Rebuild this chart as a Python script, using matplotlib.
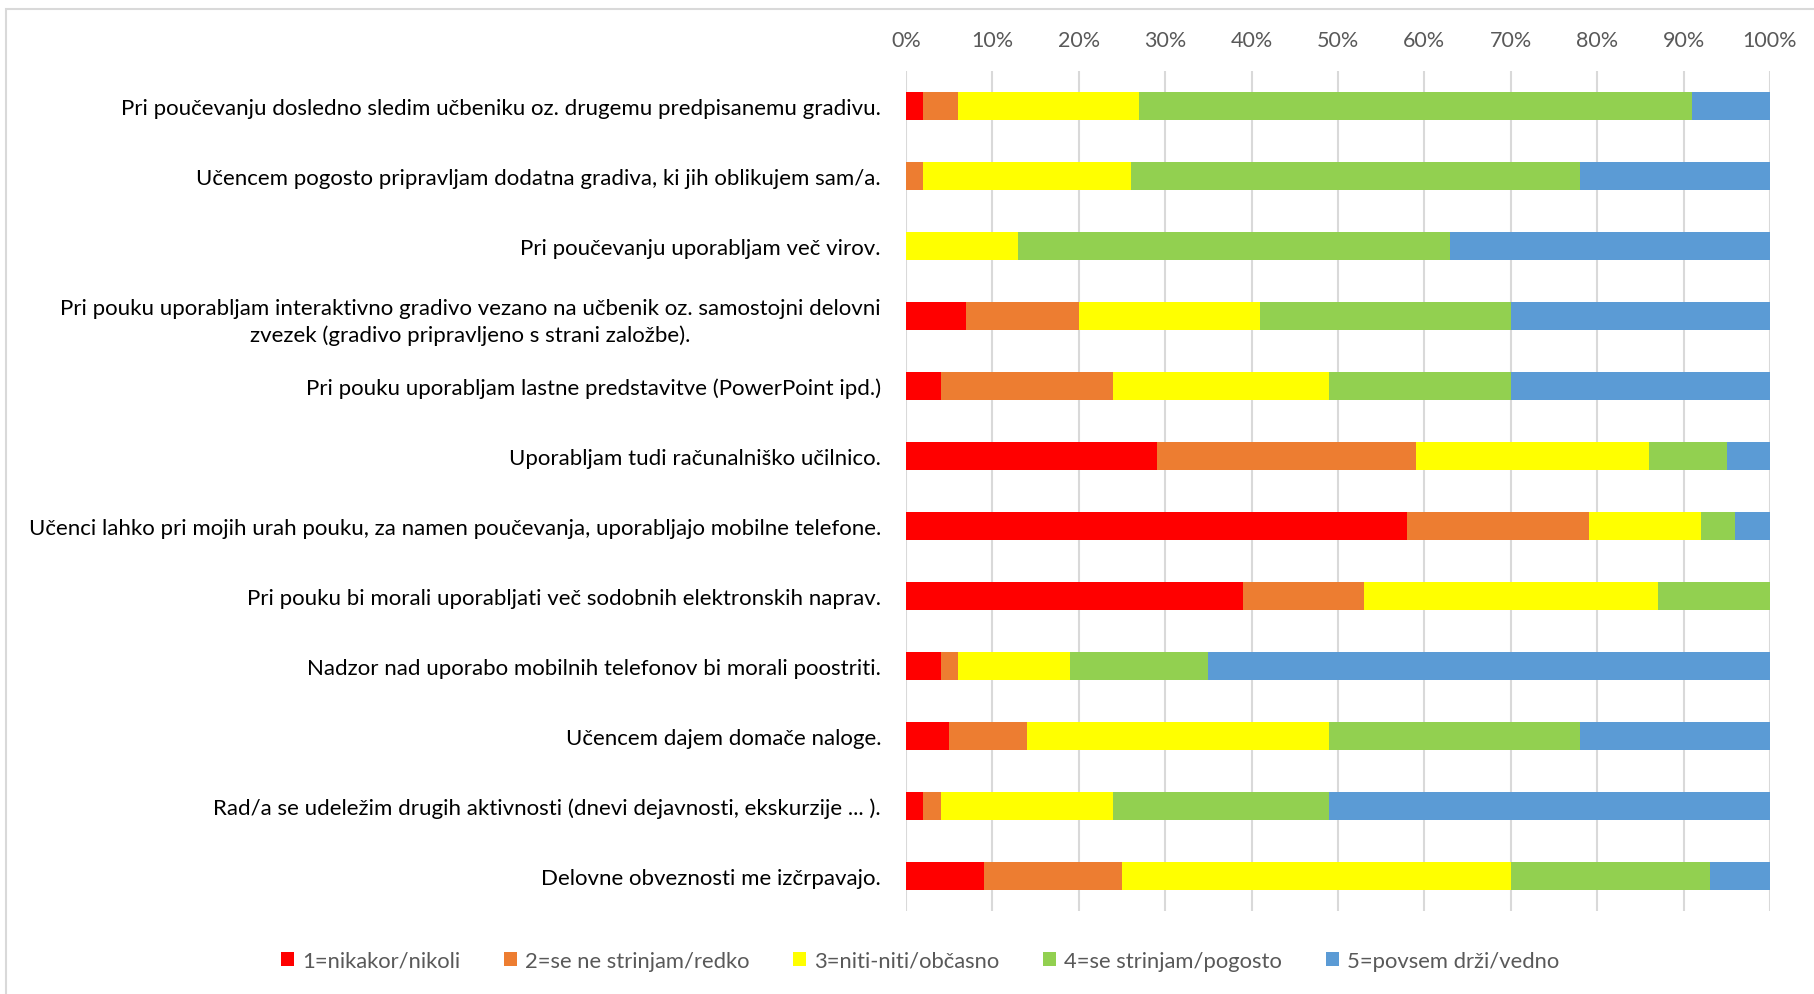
import numpy as np
import matplotlib
matplotlib.use("Agg")
import matplotlib.pyplot as plt
from matplotlib.patches import Rectangle, Patch

plt.rcParams['font.family'] = ['Lato', 'DejaVu Sans']

statements = [
    'Pri poučevanju dosledno sledim učbeniku oz. drugemu predpisanemu gradivu.',
    'Učencem pogosto pripravljam dodatna gradiva, ki jih oblikujem sam/a.',
    'Pri poučevanju uporabljam več virov.',
    'Pri pouku uporabljam interaktivno gradivo vezano na učbenik oz. samostojni delovni\nzvezek (gradivo pripravljeno s strani založbe).',
    'Pri pouku uporabljam lastne predstavitve (PowerPoint ipd.)',
    'Uporabljam tudi računalniško učilnico.',
    'Učenci lahko pri mojih urah pouku, za namen poučevanja, uporabljajo mobilne telefone.',
    'Pri pouku bi morali uporabljati več sodobnih elektronskih naprav.',
    'Nadzor nad uporabo mobilnih telefonov bi morali poostriti.',
    'Učencem dajem domače naloge.',
    'Rad/a se udeležim drugih aktivnosti (dnevi dejavnosti, ekskurzije ... ).',
    'Delovne obveznosti me izčrpavajo.',
]

legend_labels = ['1=nikakor/nikoli', '2=se ne strinjam/redko', '3=niti-niti/občasno',
                 '4=se strinjam/pogosto', '5=povsem drži/vedno']

# shares in % per statement
never = [2, 0, 0, 7, 4, 29, 58, 39, 4, 5, 2, 9]
rarely = [4, 2, 0, 13, 20, 30, 21, 14, 2, 9, 2, 16]
sometimes = [21, 24, 13, 21, 25, 27, 13, 34, 13, 35, 20, 45]
often = [64, 52, 50, 29, 21, 9, 4, 13, 16, 29, 25, 23]
always = [9, 22, 37, 30, 30, 5, 4, 0, 65, 22, 51, 7]

colors = ['#FF0000', '#ED7D31', '#FFFF00', '#92D050', '#5B9BD5']

W, H = 1814, 995
fig = plt.figure(figsize=(W / 100, H / 100), dpi=100)
ax = fig.add_axes([906 / W, 1 - 912 / H, (1770 - 906) / W, (912 - 72) / H])

series = [never, rarely, sometimes, often, always]
y = np.arange(len(statements))
left = np.zeros(len(statements))
for vals, col in zip(series, colors):
    vals = np.array(vals, dtype=float)
    ax.barh(y, vals, left=left, height=0.4, color=col, linewidth=0, zorder=3)
    left += vals

ax.set_xlim(0, 100)
ax.set_ylim(len(statements) - 0.5, -0.5)
ax.set_xticks(np.arange(0, 101, 10))
ax.set_xticklabels([f'{v}%' for v in range(0, 101, 10)])
ax.xaxis.tick_top()
ax.tick_params(axis='x', length=0, pad=15, labelsize=15.5, labelcolor='#595959')
ax.set_yticks(y)
ax.set_yticklabels(statements, fontsize=16, color='black', multialignment='center',
                   linespacing=1.4)
ax.tick_params(axis='y', length=0, pad=18)
ax.grid(axis='x', color='#d9d9d9', linewidth=1.5, zorder=0)
for s in ax.spines.values():
    s.set_visible(False)

# chart border (cropped at right and bottom)
fig.patches.append(Rectangle((6 / W, -0.05), 1.1, 1 - 10 / H + 0.05,
                             transform=fig.transFigure, fill=False,
                             edgecolor='#d9d9d9', linewidth=1.5))

handles = [Patch(facecolor=c, edgecolor='none') for c in colors]
fig.legend(handles, legend_labels, loc='center', bbox_to_anchor=(920 / W, 1 - 962 / H),
           ncol=5, frameon=False, fontsize=15.8, labelcolor='#595959',
           handlelength=0.6, handleheight=0.6, handletextpad=0.35, columnspacing=2.0)

fig.savefig('out.png', dpi=100)
